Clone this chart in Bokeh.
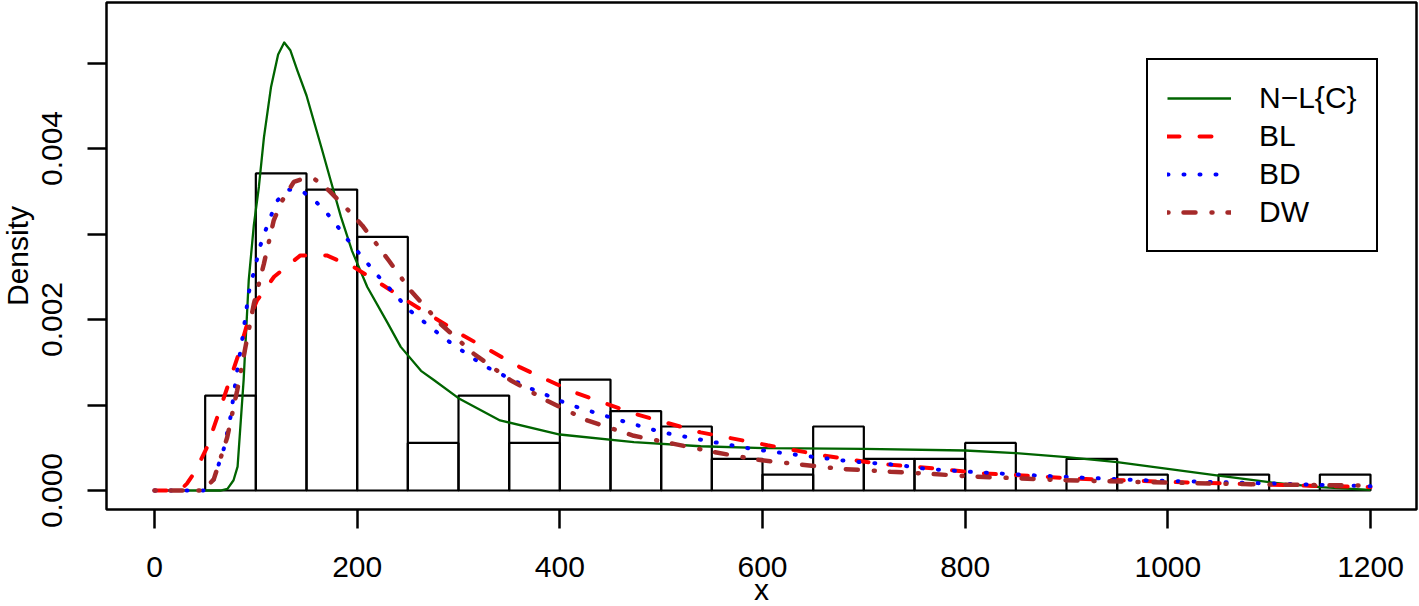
from bokeh.plotting import figure
from bokeh.models import FixedTicker, Legend, LegendItem, Range1d, PrintfTickFormatter, Title
from bokeh.embed import file_html
from bokeh.resources import INLINE

# ---------------- data ----------------
bin_edges = [50, 100, 150, 200, 250, 300, 350, 400, 450, 500, 550, 600, 650,
             700, 750, 800, 850, 900, 950, 1000, 1050, 1100, 1150, 1200]
hist_density = [0.00111, 0.003708, 0.00352, 0.002967, 0.000557, 0.00111, 0.000557,
                0.001298, 0.000928, 0.000749, 0.000371, 0.000187, 0.000749, 0.000371,
                0.000371, 0.000557, 0.0, 0.000371, 0.000187, 0.0, 0.000187, 0.0, 0.000187]

nlc_x = [0, 50, 65, 72, 78, 82, 88, 93, 98, 103, 108, 115, 122, 128, 134, 141, 150, 157,
         165, 174, 184, 195, 210, 230, 243, 263, 276, 300, 341, 400, 473, 539, 605, 700,
         800, 850, 900, 950, 1000, 1050, 1100, 1150, 1200]
nlc_y = [0, 0, 0, 0.00002, 0.00012, 0.00028, 0.0013, 0.00246, 0.0031, 0.00355, 0.00413,
         0.00472, 0.0051, 0.00524, 0.00515, 0.00491, 0.00462, 0.00433, 0.0040, 0.00362,
         0.0032, 0.0028, 0.00238, 0.00196, 0.00168, 0.0014, 0.00129, 0.00108, 0.00082,
         0.000655, 0.000565, 0.000518, 0.000495, 0.000487, 0.000468, 0.000437, 0.00039,
         0.000331, 0.000253, 0.000175, 0.000097, 0.000039, 0.000008]

bl_x = [0, 25, 32, 40, 52, 62, 72, 82, 91.5, 101, 118, 144, 170, 197, 223, 249, 305, 361,
        414, 473, 539, 605, 660, 716, 750, 818, 852, 906, 1004, 1124, 1200]
bl_y = [0, 0, 0.00008, 0.00022, 0.00051, 0.00086, 0.00121, 0.00156, 0.00195, 0.00222,
        0.0025, 0.00275, 0.00275, 0.00261, 0.00242, 0.00222, 0.00181, 0.00144, 0.00115,
        0.0009, 0.00068, 0.00053, 0.00041, 0.00031, 0.00028, 0.0002, 0.00018, 0.00014,
        0.0001, 0.00006, 0.00004]

bd_x = [0, 32, 49, 58.5, 68.4, 75, 81.6, 86.6, 93.1, 104.6, 109.5, 120.4, 131.6, 145.8,
        158.2, 169.4, 179.3, 188.8, 198.7, 208.6, 219.1, 229, 239.4, 249.4, 287.2, 325,
        367.8, 410.5, 456.6, 501, 547, 593, 639, 685, 733, 762, 810, 858, 920, 982, 1078,
        1139, 1200]
bd_y = [0, 0, 0, 0.00013, 0.00049, 0.00086, 0.0014, 0.00177, 0.00232, 0.00287, 0.00304,
        0.00338, 0.00352, 0.0035, 0.00339, 0.003255, 0.00311, 0.00296, 0.00282, 0.00268,
        0.00253, 0.0024, 0.00227, 0.00213, 0.00177, 0.00146, 0.00121, 0.001, 0.00083,
        0.00068, 0.000577, 0.00048, 0.00041, 0.000343, 0.0003, 0.000253, 0.000215,
        0.000183, 0.000148, 0.000117, 0.00009, 0.00007, 0.00005]

dw_x = [0, 48, 58.5, 71.7, 81.6, 89.8, 98, 107.9, 117.7, 126, 137.5, 147.4, 158.2, 172,
        190.2, 205, 218, 231.2, 242.8, 252.6, 282.2, 315, 351.3, 387.5, 427, 473, 512.5,
        552, 594.7, 637.5, 677, 726.3, 765.6, 804.8, 850, 886.7, 933, 1013, 1098, 1183, 1200]
dw_y = [0, 0, 0.00013, 0.00062, 0.00117, 0.00168, 0.00218, 0.00265, 0.00316, 0.00339,
        0.00361, 0.00365, 0.00364, 0.00351, 0.00329, 0.0031, 0.0029, 0.00269, 0.0025,
        0.00234, 0.00195, 0.0016, 0.00129, 0.00105, 0.00082, 0.00064, 0.000546, 0.00045,
        0.00036, 0.000304, 0.000253, 0.00022, 0.000195, 0.000164, 0.000144, 0.000125,
        0.00011, 0.00009, 0.00007, 0.00006, 0.00006]

series_labels = ["N\u2212L{C}", "BL", "BD", "DW"]
x_title = "x"
y_title = "Density"
x_ticks = [0, 200, 400, 600, 800, 1000, 1200]
y_ticks = [0.0, 0.002, 0.004]
y_minor_ticks = [0.001, 0.003, 0.005]

FONT = "Liberation Sans"
FS = "30px"

# ---------------- figure ----------------
p = figure(width=1419, height=606, output_backend="svg", toolbar_location=None,
           x_range=Range1d(-47.37, 1245.4), y_range=Range1d(-0.000222, 0.0057076),
           min_border_left=106, min_border_right=3, min_border_top=2, min_border_bottom=97)
p.background_fill_color = "white"
p.border_fill_color = "white"
p.outline_line_color = "black"
p.outline_line_width = 2.5
p.xgrid.visible = False
p.ygrid.visible = False

# histogram
p.quad(left=bin_edges[:-1], right=bin_edges[1:], bottom=0, top=hist_density,
       fill_color=None, line_color="black", line_width=2.2)

# density curves
r_nlc = p.line(nlc_x, nlc_y, line_color="#006400", line_width=2.3, line_join="round")
r_bl = p.line(bl_x, bl_y, line_color="red", line_width=4, line_dash="12 20", line_cap="round")
r_bd = p.line(bd_x, bd_y, line_color="blue", line_width=4, line_dash="1 15", line_cap="round")
r_dw = p.line(dw_x, dw_y, line_color="#A52A2A", line_width=4.5, line_dash="1 15 12 16",
              line_cap="round")

# axes
xa = p.xaxis[0]
xa.ticker = FixedTicker(ticks=x_ticks)
xa.major_label_standoff = 28
xa.minor_tick_line_color = None

ya = p.yaxis[0]
ya.ticker = FixedTicker(ticks=y_ticks, minor_ticks=y_minor_ticks)
ya.formatter = PrintfTickFormatter(format="%.3f")
ya.major_label_orientation = "vertical"
ya.major_label_standoff = 25
ya.minor_tick_out = 19
ya.minor_tick_in = 0
ya.minor_tick_line_width = 2.5
ya.minor_tick_line_color = "black"

for ax in (xa, ya):
    ax.axis_line_color = None
    ax.major_tick_out = 19
    ax.major_tick_in = 0
    ax.major_tick_line_width = 2.5
    ax.major_tick_line_color = "black"
    ax.major_label_text_font = FONT
    ax.major_label_text_font_size = FS
    ax.major_label_text_color = "black"

# axis titles as compact title panels (an empty second line shifts the
# visible line outward without growing the panel)
p.add_layout(Title(text="\n" + x_title, align="center", vertical_align="middle",
                   standoff=-62, text_line_height=0.6,
                   text_font=FONT, text_font_size=FS, text_font_style="normal",
                   text_color="black"), "below")
p.add_layout(Title(text=y_title + "\n", align="center", vertical_align="middle",
                   standoff=-56, text_line_height=1.0,
                   text_font=FONT, text_font_size=FS, text_font_style="normal",
                   text_color="black"), "left")

# legend
items = [LegendItem(label=lab, renderers=[r]) for lab, r in
         zip(series_labels, [r_nlc, r_bl, r_bd, r_dw])]
legend = Legend(items=items, location=(1040, 257), margin=0, padding=19, spacing=0,
                glyph_width=64, glyph_height=38, label_height=38, label_standoff=28,
                label_text_font=FONT, label_text_font_size=FS, label_text_color="black",
                border_line_color="black", border_line_width=2.5, border_line_alpha=1.0,
                background_fill_color="white", background_fill_alpha=1.0)
p.add_layout(legend)

open("out.html", "w").write(file_html(p, INLINE))
